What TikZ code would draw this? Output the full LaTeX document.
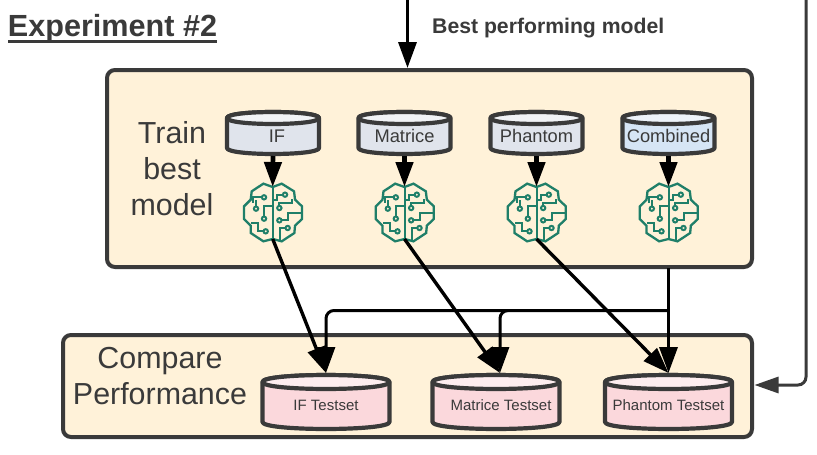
\documentclass[tikz,border=0pt]{standalone}
\usepackage{fontspec}
\setmainfont{Liberation Sans}
\usetikzlibrary{arrows.meta}
\definecolor{boxfill}{HTML}{FFF2D9}
\definecolor{ink}{HTML}{3A3A3A}
\definecolor{grayfill}{HTML}{E0E4EC}
\definecolor{bluefill}{HTML}{D6E5F5}
\definecolor{pinkfill}{HTML}{FBD8DC}
\definecolor{brainc}{HTML}{1F7F69}
\newcommand{\dblabel}[2][0pt]{\hspace*{#1}\raisebox{-3pt}[\height][\depth]{#2}}
\tikzset{
  panel/.style={draw=ink,line width=4pt,fill=boxfill,rounded corners=8pt},
  dbline/.style={draw=ink,line width=4.2pt,line join=round},
  dbtop/.style={rectangle,inner sep=0pt,outer sep=2pt,text=ink,minimum width=92pt,minimum height=42pt,font=\fontsize{18.3}{20}\selectfont},
  dbbot/.style={rectangle,inner sep=0pt,outer sep=2pt,text=ink,minimum width=127pt,minimum height=54pt,font=\fontsize{15}{18}\selectfont},
  brainnode/.style={circle,minimum size=52pt,inner sep=0pt,outer sep=0pt},
  flow/.style={draw=black,line width=3.4pt,-{Triangle[length=26pt,width=18pt]},line join=round},
  thickflow/.style={draw=black,line width=4.6pt,-{Triangle[length=25pt,width=17pt]}},
  bus/.style={draw=black,line width=3pt,rounded corners=8pt,-{Triangle[length=26pt,width=18pt]}},
  feedback/.style={draw=ink,line width=3pt,rounded corners=8pt,-{Triangle[length=24pt,width=16pt]}},
  label/.style={text=ink,font=\fontsize{30.4}{36}\selectfont,align=center,inner sep=0pt},
  brainline/.style={draw=brainc,line width=2pt,line join=miter},
  braindot/.style={draw=brainc,line width=2pt,fill=boxfill},
}
% name, cx, cy, half width, half height, ellipse ry, fill, node style, text
\newcommand{\dbcyl}[9]{%
  \begin{scope}[shift={(#2,#3)}]
    \path[dbline,fill=#7] (-#4,-#5+#6) -- (-#4,#5-#6) .. controls (-#4,#5+0.33*#6) and (#4,#5+0.33*#6) .. (#4,#5-#6) -- (#4,-#5+#6)
      .. controls (#4,-#5-0.33*#6) and (-#4,-#5-0.33*#6) .. (-#4,-#5+#6) -- cycle;
    \path[dbline,fill=#7!45!white] (-#4,-#5+#6) .. controls (-#4,-#5-0.33*#6) and (#4,-#5-0.33*#6) .. (#4,-#5+#6)
      .. controls (#4,-#5+2.33*#6) and (-#4,-#5+2.33*#6) .. (-#4,-#5+#6) -- cycle;
  \end{scope}
  \node[#8] (#1) at (#2,#3) {#9};}
\newcommand{\brainart}[1]{%
  \begin{scope}[shift={(#1)},x=0.3333pt,y=-0.3333pt]
    \draw[brainline,line width=2.3pt] (0,-78) -- (-28,-88) -- (-63,-65) -- (-66,-40) -- (-86,-20) -- (-86,18) -- (-66,38) -- (-66,60) -- (-28,85) -- (0,78) -- (27,85) -- (65,60) -- (67,38) -- (88,18) -- (88,-20) -- (67,-40) -- (64,-65) -- (27,-88) -- cycle;
    \draw[brainline] (0,-78) -- (0,78);
    \draw[brainline] (-26,-47) -- (-58,-47) -- (-58,-30);
    \draw[brainline] (-50,-13) -- (-50,-38);
    \draw[brainline] (-26,17) -- (-26,-20) -- (0,-20);
    \draw[brainline] (-21,55) -- (-43,55) -- (-43,30) -- (-66,30);
    \draw[brainline] (37,-55) -- (14,-55) -- (14,-40) -- (0,-40);
    \draw[brainline] (20,-15) -- (20,-30) -- (57,-30) -- (57,-42);
    \draw[brainline] (20,22) -- (47,22) -- (47,0) -- (88,0);
    \draw[brainline] (45,45) -- (22,45) -- (22,80);
    \foreach \p in {(-26,-47),(-50,-13),(-26,17),(-21,55),(37,-55),(20,-15),(20,22),(45,45)}
      \draw[braindot] \p circle (6.5);
  \end{scope}}
\begin{document}
\begin{tikzpicture}[x=1pt,y=-1pt]
\useasboundingbox (0,0) rectangle (817,455);
\fill[white] (0,0) rectangle (817,455);
\node[inner sep=0pt] (title) at (112.5,29) {\fontsize{30.6}{34}\selectfont\bfseries\textcolor{ink}{Experiment \#2}};
\draw[ink,line width=2.4pt] (8,41.5) -- (217,41.5);
\node[inner sep=0pt,anchor=west,text=ink] (best) at (432,28) {\fontsize{21.2}{24}\selectfont\bfseries Best performing model};
\path[panel] (107,70) rectangle (752,267);
\path[panel] (63,335) rectangle (752,437);
\node[label] (train) at (172,169) {Train\\best\\model};
\node[label] (compare) at (160,376) {Compare\\Performance};
% source cylinders
\dbcyl{c1}{273}{133}{46}{21}{6}{grayfill}{dbtop}{\dblabel[8pt]{IF}}
\dbcyl{c2}{404.5}{133}{46}{21}{6}{grayfill}{dbtop}{\dblabel{Matrice}}
\dbcyl{c3}{536.5}{133}{46}{21}{6}{grayfill}{dbtop}{\dblabel{Phantom}}
\dbcyl{c4}{668.5}{133}{46}{21}{6}{bluefill}{dbtop}{\dblabel{Combined}}
% brains
\node[brainnode] (b1) at (272.7,213) {};
\node[brainnode] (b2) at (404.5,213) {};
\node[brainnode] (b3) at (536.5,213) {};
\node[brainnode] (b4) at (668.5,213) {};
\brainart{b1}\brainart{b2}\brainart{b3}\brainart{b4}
% test cylinders
\dbcyl{t1}{326}{402}{63.5}{27}{7}{pinkfill}{dbbot}{\dblabel{IF Testset}}
\dbcyl{t2}{496}{402}{63.5}{27}{7}{pinkfill}{dbbot}{\dblabel[10pt]{Matrice Testset}}
\dbcyl{t3}{668.5}{402}{63.5}{27}{7}{pinkfill}{dbbot}{\dblabel{Phantom Testset}}
% helper coordinates
\coordinate (in) at (407.5,0);
\coordinate (intop) at (407.5,68);
\coordinate (fb) at (806,0);
\coordinate (fbend) at (754.5,385);
\coordinate (t1in) at (326,373);
\coordinate (t2in) at (500,373);
\coordinate (t3in) at (668.5,373);
\coordinate (src) at (668.5,268);
\coordinate (j) at (668.5,310.5);
\coordinate (j2) at (508,310.5);
% connectors
\draw[flow] (in) -- (intop);
\draw[feedback] (fb) |- (fbend);
\draw[thickflow] (c1.south) -- (b1.north);
\draw[thickflow] (c2.south) -- (b2.north);
\draw[thickflow] (c3.south) -- (b3.north);
\draw[thickflow] (c4.south) -- (b4.north);
\draw[flow] (b1.south) -- (t1in);
\draw[flow] (b2.south) -- (t2in);
\draw[flow] (b3.south) -- (t3in);
\draw[flow] (src) -- (t3in);
\draw[bus] (j) -| (t1in);
\draw[bus] (j2) -- (t2in |- j2) -- (t2in);
\end{tikzpicture}
\end{document}
